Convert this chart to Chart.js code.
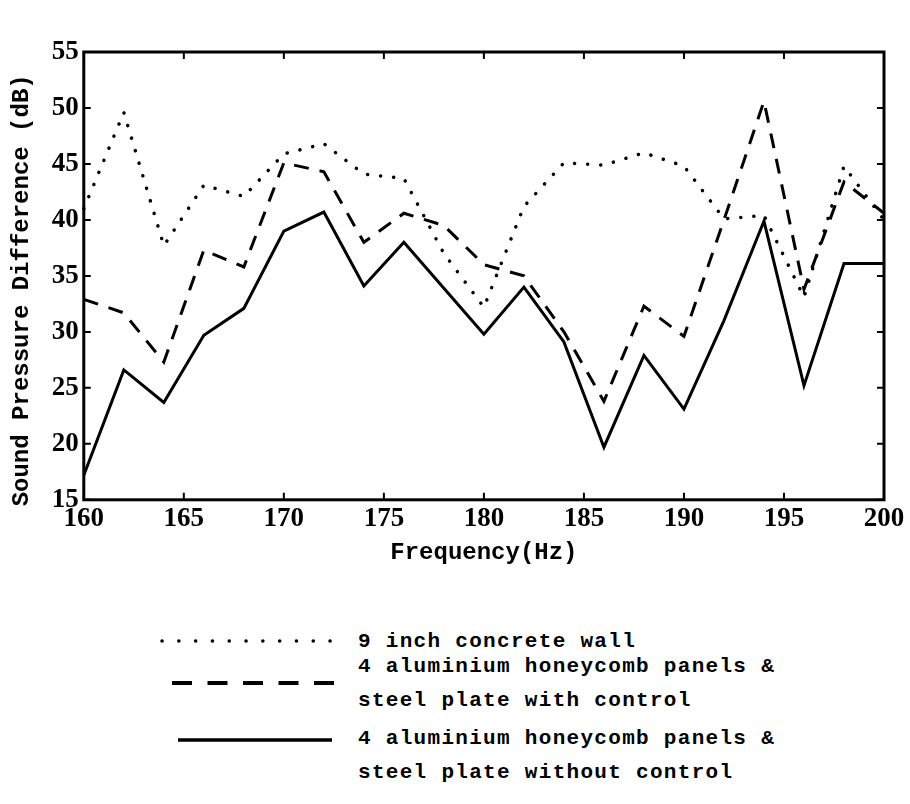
<!DOCTYPE html>
<html>
<head>
<meta charset="utf-8">
<script src="https://cdn.jsdelivr.net/npm/chart.js@4"></script>
<style>
    body { margin: 0; background: #fff; }
    #wrap { position: relative; width: 910px; height: 804px; }
    #chart { position: absolute; left: 0; top: 0; }
    .legend-text {
        position: absolute;
        font-family: 'Liberation Mono', monospace;
        font-weight: bold;
        font-size: 21px;
        letter-spacing: 1.3px;
        line-height: 34px;
        color: #000;
        white-space: pre;
    }
    .legend-line { position: absolute; }
</style>
</head>
<body>
<div id="wrap">
    <canvas id="chart" width="910" height="571"></canvas>

    <svg class="legend-line" style="left:158px; top:631px;" width="192" height="20">
        <line x1="4" y1="10" x2="188" y2="10" stroke="#000" stroke-width="3.5" stroke-linecap="round" stroke-dasharray="0.1 16.7"/>
    </svg>
    <div class="legend-text" style="left:358px; top:625px;">9 inch concrete wall</div>

    <svg class="legend-line" style="left:170px; top:673px;" width="166" height="20">
        <line x1="2" y1="10" x2="164" y2="10" stroke="#000" stroke-width="4" stroke-dasharray="20 15.5"/>
    </svg>
    <div class="legend-text" style="left:358px; top:650px;">4 aluminium honeycomb panels &amp;
steel plate with control</div>

    <svg class="legend-line" style="left:176px; top:730px;" width="158" height="20">
        <line x1="2" y1="10" x2="156" y2="10" stroke="#000" stroke-width="3.5"/>
    </svg>
    <div class="legend-text" style="left:358px; top:722px;">4 aluminium honeycomb panels &amp;
steel plate without control</div>
</div>

<script>
// Frequencies (Hz)
const freqs = [160, 162, 164, 166, 168, 170, 172, 174, 176, 178, 180,
               182, 184, 186, 188, 190, 192, 194, 196, 198, 200];

// Sound pressure difference (dB)
const concreteWall = [41, 49.6, 37.7, 43.1, 42.1, 45.9, 46.8, 44.1, 43.7, 37, 32.2,
                      41.2, 45.1, 44.9, 46, 44.8, 40.1, 40.4, 33.1, 44.8, 40];
const withControl = [32.9, 31.7, 27.3, 37.3, 35.8, 45.1, 44.3, 38, 40.6, 39.5, 36,
                     35, 30, 23.8, 32.3, 29.6, 40, 50.6, 33.8, 43.4, 40.6];
const withoutControl = [17.2, 26.6, 23.7, 29.7, 32.1, 39, 40.7, 34.1, 38, 33.9, 29.8,
                        34, 29.1, 19.7, 27.9, 23.1, 31, 39.9, 25.2, 36.1, 36.1];

// Axis ticks
const xTicks = [160, 165, 170, 175, 180, 185, 190, 195, 200];
const yTicks = [15, 20, 25, 30, 35, 40, 45, 50, 55];

const toPoints = values => values.map((v, i) => ({ x: freqs[i], y: v }));

// Frame and inward tick marks on all four sides
const framePlugin = {
    id: 'frame',
    afterDatasetsDraw(chart) {
        const { ctx, chartArea: a, scales } = chart;
        const len = 7;
        ctx.save();
        ctx.strokeStyle = '#000';
        ctx.lineWidth = 2;
        ctx.beginPath();
        xTicks.forEach(t => {
            const px = scales.x.getPixelForValue(t);
            ctx.moveTo(px, a.bottom);
            ctx.lineTo(px, a.bottom - len);
            ctx.moveTo(px, a.top);
            ctx.lineTo(px, a.top + len);
        });
        yTicks.forEach(t => {
            const py = scales.y.getPixelForValue(t);
            ctx.moveTo(a.left, py);
            ctx.lineTo(a.left + len, py);
            ctx.moveTo(a.right, py);
            ctx.lineTo(a.right - len, py);
        });
        ctx.stroke();
        ctx.lineWidth = 3;
        ctx.strokeRect(a.left, a.top, a.right - a.left, a.bottom - a.top);
        ctx.restore();
    }
};

// Create chart
const ctx = document.getElementById('chart').getContext('2d');
new Chart(ctx, {
    type: 'line',
    data: {
        datasets: [
            {
                label: '9 inch concrete wall',
                data: toPoints(concreteWall),
                borderColor: '#000',
                borderWidth: 3.5,
                borderDash: [0.1, 13],
                borderCapStyle: 'round',
                pointRadius: 0,
                tension: 0
            },
            {
                label: '4 aluminium honeycomb panels & steel plate with control',
                data: toPoints(withControl),
                borderColor: '#000',
                borderWidth: 3,
                borderDash: [15, 11],
                pointRadius: 0,
                tension: 0
            },
            {
                label: '4 aluminium honeycomb panels & steel plate without control',
                data: toPoints(withoutControl),
                borderColor: '#000',
                borderWidth: 3,
                pointRadius: 0,
                tension: 0
            }
        ]
    },
    options: {
        responsive: false,
        animation: false,
        clip: false,
        layout: {
            padding: { left: 8, right: 26, top: 52, bottom: 4 }
        },
        plugins: {
            legend: { display: false },
            tooltip: { enabled: false }
        },
        scales: {
            x: {
                type: 'linear',
                min: 160,
                max: 200,
                afterBuildTicks: axis => { axis.ticks = xTicks.map(v => ({ value: v })); },
                grid: { display: false, drawTicks: false },
                border: { display: false },
                ticks: {
                    color: '#000',
                    padding: 3,
                    maxRotation: 0,
                    font: { family: 'Liberation Serif', weight: 'bold', size: 27 }
                },
                title: {
                    display: true,
                    text: 'Frequency(Hz)',
                    color: '#000',
                    padding: { top: 0, bottom: 0 },
                    font: { family: 'Liberation Mono', weight: 'bold', size: 24 }
                }
            },
            y: {
                min: 15,
                max: 55,
                afterBuildTicks: axis => { axis.ticks = yTicks.map(v => ({ value: v })); },
                grid: { display: false, drawTicks: false },
                border: { display: false },
                ticks: {
                    color: '#000',
                    padding: 5,
                    font: { family: 'Liberation Serif', weight: 'bold', size: 27 }
                },
                title: {
                    display: true,
                    // trailing spaces nudge the title upward like the original
                    text: 'Sound Pressure Difference (dB)  ',
                    color: '#000',
                    padding: { top: 0, bottom: 10 },
                    font: { family: 'Liberation Mono', weight: 'bold', size: 24 }
                }
            }
        }
    },
    plugins: [framePlugin]
});
</script>
</body>
</html>
